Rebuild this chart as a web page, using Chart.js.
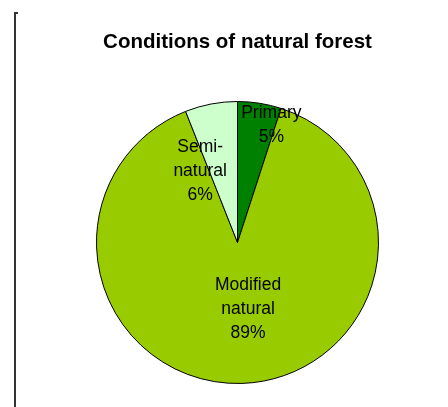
<!DOCTYPE html>
<html>
<head>
<meta charset="utf-8">
<script src="https://cdn.jsdelivr.net/npm/chart.js@4/dist/chart.umd.min.js"></script>
<style>
  html, body { margin: 0; padding: 0; background: #ffffff; }
  #wrap { width: 448px; height: 407px; }
</style>
</head>
<body>
<div id="wrap"><canvas id="c" width="448" height="407"></canvas></div>
<script>
// Share of natural forest by condition (percent)
const categories = ['Primary', 'Modified natural', 'Semi-natural'];
const shares = [5, 89, 6];
// Slice labels as printed, one entry per text line
const labelLines = [
  ['Primary', '5%'],
  ['Modified', 'natural', '89%'],
  ['Semi-', 'natural', '6%']
];
const sliceColors = ['#008000', '#99CC00', '#CCFFCC'];

// Where each slice's label block sits, relative to the pie centre in units of its radius
const labelAnchors = [
  { dx: 0.24, dy: -0.83 },
  { dx: 0.075, dy: 0.47 },
  { dx: -0.265, dy: -0.505 }
];

const FONT = '"Liberation Sans", Arial, Helvetica, sans-serif';

// Vertical frame line down the left side
const frameLine = {
  id: 'frameLine',
  beforeDraw(chart) {
    const ctx = chart.ctx;
    ctx.save();
    ctx.strokeStyle = '#333333';
    ctx.lineWidth = 2;
    ctx.beginPath();
    ctx.moveTo(15, 407);
    ctx.lineTo(15, 13);
    ctx.lineTo(18, 13);
    ctx.stroke();
    ctx.restore();
  }
};

// Multi-line slice labels
const sliceLabels = {
  id: 'sliceLabels',
  afterDatasetsDraw(chart) {
    const meta = chart.getDatasetMeta(0);
    const ctx = chart.ctx;
    ctx.save();
    ctx.fillStyle = '#000000';
    ctx.font = '17.5px ' + FONT;
    ctx.textAlign = 'center';
    ctx.textBaseline = 'middle';
    const lh = 24;
    meta.data.forEach((arc, i) => {
      const r = arc.outerRadius;
      const cx = arc.x + labelAnchors[i].dx * r;
      const cy = arc.y + labelAnchors[i].dy * r;
      const lines = labelLines[i];
      const y0 = cy - (lines.length - 1) * lh / 2;
      lines.forEach((t, k) => ctx.fillText(t, cx, y0 + k * lh));
    });
    ctx.restore();
  }
};

new Chart(document.getElementById('c'), {
  type: 'pie',
  data: {
    labels: categories,
    datasets: [{
      data: shares,
      backgroundColor: sliceColors,
      borderColor: '#000000',
      borderWidth: 1
    }]
  },
  options: {
    responsive: false,
    animation: false,
    layout: { padding: { left: 40, right: 13, top: 0, bottom: 23 } },
    plugins: {
      legend: { display: false },
      tooltip: { enabled: false },
      title: {
        display: true,
        text: 'Conditions of natural forest',
        color: '#000000',
        font: { family: FONT, size: 20.5, weight: 'bold', lineHeight: 1.2 },
        padding: { top: 29.7, bottom: 46.7 }
      }
    }
  },
  plugins: [frameLine, sliceLabels]
});
</script>
</body>
</html>
